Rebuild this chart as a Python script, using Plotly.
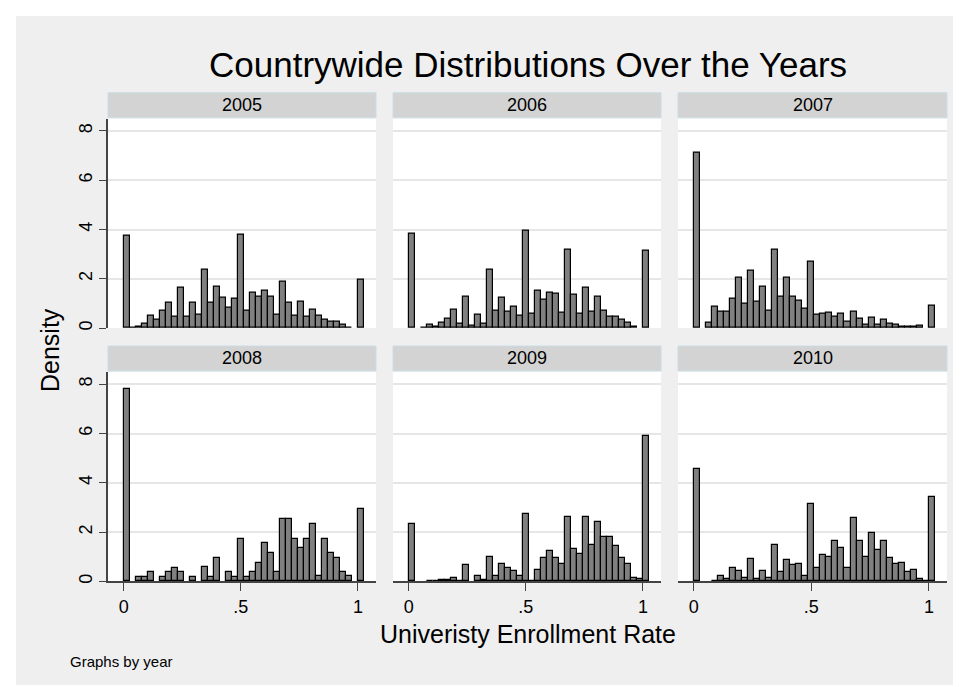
import plotly.graph_objects as go

# ---------------- data ----------------
years = [2005, 2006, 2007, 2008, 2009, 2010]
bin_start = 0.0
bin_width = 1 / 39
n_bins = 40

density_2005 = [3.77, 0.03, 0.07, 0.19, 0.51, 0.35, 0.70, 1.03, 0.47, 1.62,
                0.45, 1.03, 0.54, 2.38, 1.03, 1.69, 1.23, 0.84, 1.21, 3.81,
                0.72, 1.42, 1.26, 1.52, 1.27, 0.55, 1.88, 1.04, 0.49, 1.09,
                0.47, 0.74, 0.49, 0.35, 0.24, 0.24, 0.12, 0.03, 0.00, 1.97]
density_2006 = [3.82, 0.00, 0.02, 0.12, 0.04, 0.22, 0.38, 0.73, 0.19, 1.26,
                0.11, 0.55, 0.19, 2.38, 0.72, 1.23, 0.66, 0.88, 0.50, 3.95,
                0.59, 1.50, 1.15, 1.42, 1.39, 0.62, 3.17, 1.34, 0.59, 1.63,
                0.65, 1.26, 0.70, 0.45, 0.47, 0.35, 0.22, 0.05, 0.00, 3.13]
density_2007 = [7.14, 0.00, 0.20, 0.85, 0.65, 0.67, 1.20, 2.05, 0.99, 2.33,
                1.08, 1.69, 0.72, 3.18, 1.26, 2.05, 1.27, 1.11, 0.77, 2.70,
                0.55, 0.59, 0.62, 0.46, 0.58, 0.24, 0.66, 0.40, 0.15, 0.42,
                0.15, 0.35, 0.19, 0.13, 0.07, 0.04, 0.04, 0.09, 0.00, 0.89]
density_2008 = [7.81, 0.00, 0.18, 0.18, 0.39, 0.00, 0.18, 0.39, 0.55, 0.39,
                0.00, 0.18, 0.00, 0.57, 0.18, 0.96, 0.00, 0.38, 0.18, 1.74,
                0.18, 0.38, 0.76, 1.54, 1.14, 0.38, 2.53, 2.53, 1.72, 1.35,
                1.72, 2.31, 0.20, 1.72, 1.14, 0.96, 0.38, 0.20, 0.00, 2.92]
density_2009 = [2.34, 0.00, 0.00, 0.02, 0.03, 0.04, 0.07, 0.13, 0.03, 0.66,
                0.00, 0.23, 0.07, 0.98, 0.23, 0.70, 0.53, 0.43, 0.20, 2.72,
                0.03, 0.47, 0.93, 1.24, 0.95, 0.70, 2.60, 1.32, 1.12, 2.63,
                1.49, 2.40, 1.82, 1.82, 1.44, 0.93, 0.71, 0.13, 0.08, 5.89]
density_2010 = [4.57, 0.00, 0.00, 0.03, 0.20, 0.09, 0.54, 0.44, 0.12, 0.91,
                0.09, 0.42, 0.15, 1.49, 0.37, 0.85, 0.68, 0.71, 0.23, 3.15,
                0.56, 1.07, 0.99, 1.62, 1.36, 0.53, 2.57, 1.63, 1.00, 1.97,
                1.27, 1.62, 0.94, 0.70, 0.75, 0.38, 0.48, 0.10, 0.03, 3.43]
densities = [density_2005, density_2006, density_2007,
             density_2008, density_2009, density_2010]

x_tickvals = [0, 0.5, 1]
x_ticktext = ["0", ".5", "1"]
y_tickvals = [0, 2, 4, 6, 8]

title_text = "Countrywide Distributions Over the Years"
x_title = "Univeristy Enrollment Rate"
y_title = "Density"
note_text = "Graphs by year"

# ---------------- layout geometry (pixels) ----------------
W, H = 961, 687
col_px = [(100, 368), (385, 653), (670, 939)]
row_px = [(111, 321), (365, 575)]      # plot areas (top, bottom)
hdr_px = [(85, 110), (339, 364)]       # strip headers (top, bottom)

FONT = "Liberation Sans, Arial, sans-serif"
BG = "#EFEFEF"


def fx(x):
    return x / W


def fy(y):
    return 1 - y / H


bin_centers = [bin_start + (k + 0.5) * bin_width for k in range(n_bins)]

fig = go.Figure()
layout = dict(
    width=W, height=H,
    margin=dict(l=0, r=0, t=0, b=0),
    paper_bgcolor=BG,
    plot_bgcolor="white",
    showlegend=False,
    bargap=0,
    font=dict(family=FONT, color="black"),
)
shapes = []
annotations = []

for i, (yr, dens) in enumerate(zip(years, densities)):
    r, c = divmod(i, 3)
    n = "" if i == 0 else str(i + 1)
    vals = [v if v > 0 else None for v in dens]
    fig.add_trace(go.Bar(
        x=bin_centers, y=vals, width=bin_width,
        marker=dict(color="#808080", line=dict(color="black", width=1.2)),
        xaxis="x" + n, yaxis="y" + n, hoverinfo="x+y",
    ))
    bottom = r == 1
    left = c == 0
    layout["xaxis" + n] = dict(
        domain=[fx(col_px[c][0]), fx(col_px[c][1])],
        range=[-0.067, 1.077], anchor="y" + n,
        showgrid=False, zeroline=False,
        tickvals=x_tickvals, ticktext=x_ticktext,
        showticklabels=bottom, ticks="outside" if bottom else "",
        ticklen=8, tickwidth=1.3, tickcolor="#444",
        showline=bottom, linecolor="#444", linewidth=1.5,
        tickfont=dict(size=18, family=FONT, color="black"),
        fixedrange=True,
    )
    layout["yaxis" + n] = dict(
        domain=[fy(row_px[r][1]), fy(row_px[r][0])],
        range=[0, 8.5], anchor="x" + n,
        showgrid=True, gridcolor="#E6E6E6", gridwidth=1.5,
        zeroline=False, tickvals=y_tickvals,
        showticklabels=left, ticks="outside" if left else "",
        ticklen=7, tickwidth=1.3, tickcolor="#444",
        showline=left, linecolor="#444", linewidth=1.5,
        tickangle=-90,
        tickfont=dict(size=18, family=FONT, color="black"),
        fixedrange=True,
    )
    # strip header
    shapes.append(dict(
        type="rect", xref="paper", yref="paper", layer="below",
        x0=fx(col_px[c][0]), x1=fx(col_px[c][1]),
        y0=fy(hdr_px[r][1]), y1=fy(hdr_px[r][0]),
        fillcolor="#D3D3D3", line=dict(color="#C9DDE6", width=1),
    ))
    annotations.append(dict(
        text=str(yr), xref="paper", yref="paper", showarrow=False,
        x=fx((col_px[c][0] + col_px[c][1]) / 2),
        y=fy((hdr_px[r][0] + hdr_px[r][1]) / 2),
        xanchor="center", yanchor="middle",
        font=dict(size=18, family=FONT, color="black"),
    ))

# white outer border
for x0, x1, y0, y1 in [(0, W, 0, 8), (0, W, 679, H), (0, 8, 0, H), (953, W, 0, H)]:
    shapes.append(dict(type="rect", xref="paper", yref="paper", layer="above",
                       x0=fx(x0), x1=fx(x1), y0=fy(y1), y1=fy(y0),
                       fillcolor="white", line=dict(width=0)))

annotations += [
    dict(text=title_text, xref="paper", yref="paper", showarrow=False,
         x=fx(519.5), y=fy(57), xanchor="center", yanchor="middle",
         font=dict(size=35, family=FONT, color="black")),
    dict(text=x_title, xref="paper", yref="paper", showarrow=False,
         x=fx(519.5), y=fy(628), xanchor="center", yanchor="middle",
         font=dict(size=25, family=FONT, color="black")),
    dict(text=y_title, xref="paper", yref="paper", showarrow=False,
         x=fx(42), y=fy(343), xanchor="center", yanchor="middle",
         textangle=-90, font=dict(size=25, family=FONT, color="black")),
    dict(text=note_text, xref="paper", yref="paper", showarrow=False,
         x=fx(60), y=fy(655), xanchor="left", yanchor="middle",
         font=dict(size=15, family=FONT, color="black")),
]

layout["shapes"] = shapes
layout["annotations"] = annotations
fig.update_layout(**layout)
fig.write_html("out.html")
